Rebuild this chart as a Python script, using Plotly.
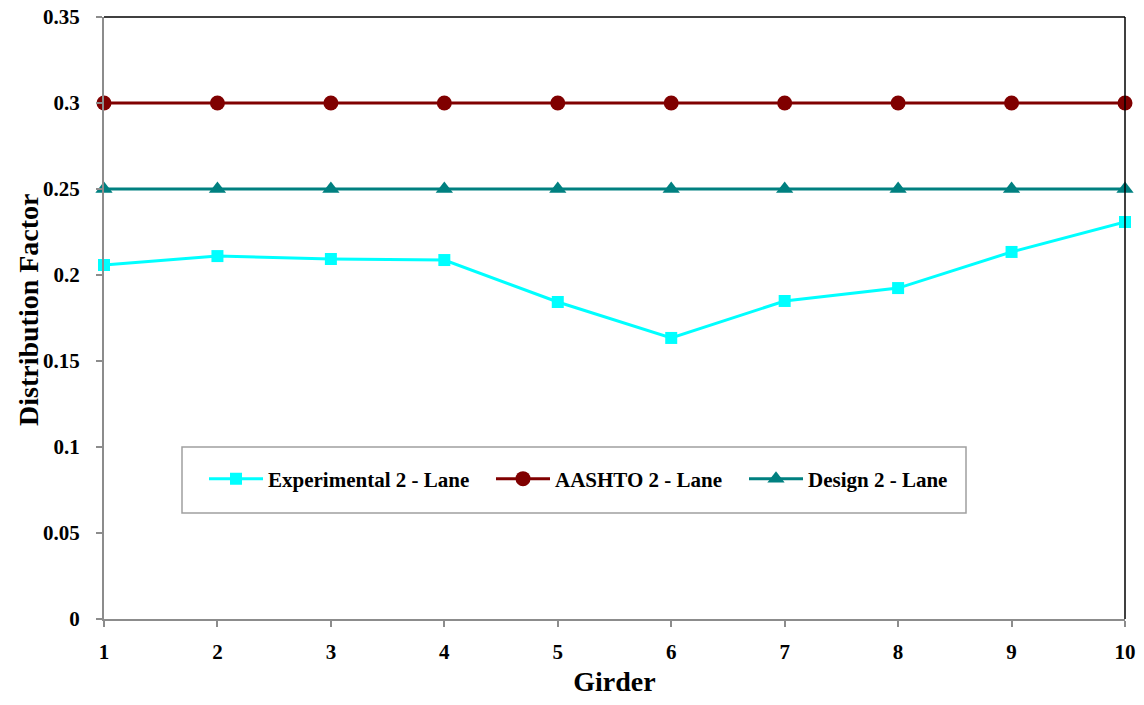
import plotly.graph_objects as go

girders = [1, 2, 3, 4, 5, 6, 7, 8, 9, 10]
experimental = [0.2058, 0.2110, 0.2093, 0.2087, 0.1843, 0.1634, 0.1849, 0.1924, 0.2134, 0.2308]
aashto = [0.30] * 10
design = [0.25] * 10
y_ticks = [0, 0.05, 0.1, 0.15, 0.2, 0.25, 0.3, 0.35]
y_labels = ["0", "0.05", "0.1", "0.15", "0.2", "0.25", "0.3", "0.35"]

FONT = "Liberation Serif"
L, R, T, B = 104, 19, 17, 86
PW, PH = 1144 - L - R, 705 - T - B


def px_x(p):
    return (p - L) / PW


def px_y(p):
    return (705 - B - p) / PH


fig = go.Figure()
fig.add_trace(go.Scatter(x=girders, y=experimental, mode="lines+markers",
                         name="<b>Experimental 2 - Lane</b>", legend="legend",
                         line=dict(color="#00FFFF", width=3),
                         marker=dict(symbol="square", size=12, color="#00FFFF"),
                         cliponaxis=False))
fig.add_trace(go.Scatter(x=girders, y=aashto, mode="lines+markers",
                         name="<b>AASHTO 2 - Lane</b>", legend="legend2",
                         line=dict(color="#800000", width=3),
                         marker=dict(symbol="circle", size=15, color="#800000"),
                         cliponaxis=False))
fig.add_trace(go.Scatter(x=girders, y=design, mode="lines+markers",
                         name="<b>Design 2 - Lane</b>", legend="legend3",
                         line=dict(color="#008080", width=3),
                         marker=dict(symbol="triangle-up", size=15, color="#008080"),
                         cliponaxis=False))

# top and right borders (black)
fig.add_shape(type="line", xref="paper", yref="paper", x0=0, x1=1, y0=1, y1=1,
              line=dict(color="black", width=1.5))
fig.add_shape(type="line", xref="paper", yref="paper", x0=1, x1=1, y0=0, y1=1,
              line=dict(color="black", width=1.5))
# legend box
fig.add_shape(type="rect", xref="paper", yref="paper",
              x0=px_x(182), x1=px_x(966), y0=px_y(513), y1=px_y(447),
              line=dict(color="#A0A0A0", width=1.5), fillcolor="white", layer="below")

# y axis title
fig.add_annotation(text="<b>Distribution Factor</b>", xref="paper", yref="paper",
                   x=px_x(28), y=px_y(310), xanchor="center", yanchor="middle",
                   textangle=-90, showarrow=False,
                   font=dict(family=FONT, size=28, color="black"))


def leg(xpix):
    return dict(orientation="h", x=px_x(xpix), y=px_y(479), xanchor="left", yanchor="middle",
                bgcolor="rgba(0,0,0,0)", borderwidth=0,
                font=dict(family=FONT, size=21, color="black"), itemwidth=54)


fig.update_layout(
    width=1144, height=705,
    margin=dict(l=L, r=R, t=T, b=B, autoexpand=False),
    paper_bgcolor="white", plot_bgcolor="white",
    font=dict(family=FONT, color="black", size=20),
    showlegend=True,
    legend=leg(204), legend2=leg(491), legend3=leg(744),
    xaxis=dict(range=[1, 10], tickvals=girders, ticktext=[f"<b>{g}</b>" for g in girders],
               showline=True, linecolor="#8C8C8C", linewidth=2,
               ticks="outside", ticklen=6, tickcolor="#8C8C8C", tickwidth=2,
               ticklabelstandoff=7, automargin=False,
               showgrid=False, zeroline=False,
               title=dict(text="<b>Girder</b>", font=dict(family=FONT, size=28), standoff=8),
               tickfont=dict(family=FONT, size=21)),
    yaxis=dict(range=[0, 0.35], tickvals=y_ticks, ticktext=[f"<b>{t}</b>" for t in y_labels],
               showline=True, linecolor="#8C8C8C", linewidth=2,
               ticks="outside", ticklen=6, tickcolor="#8C8C8C", tickwidth=2,
               ticklabelstandoff=12, automargin=False,
               showgrid=False, zeroline=False,
               tickfont=dict(family=FONT, size=21)),
)

fig.write_html("out.html", config={"displayModeBar": False},
               post_script="document.body.style.margin='0';document.body.style.padding='0';")
